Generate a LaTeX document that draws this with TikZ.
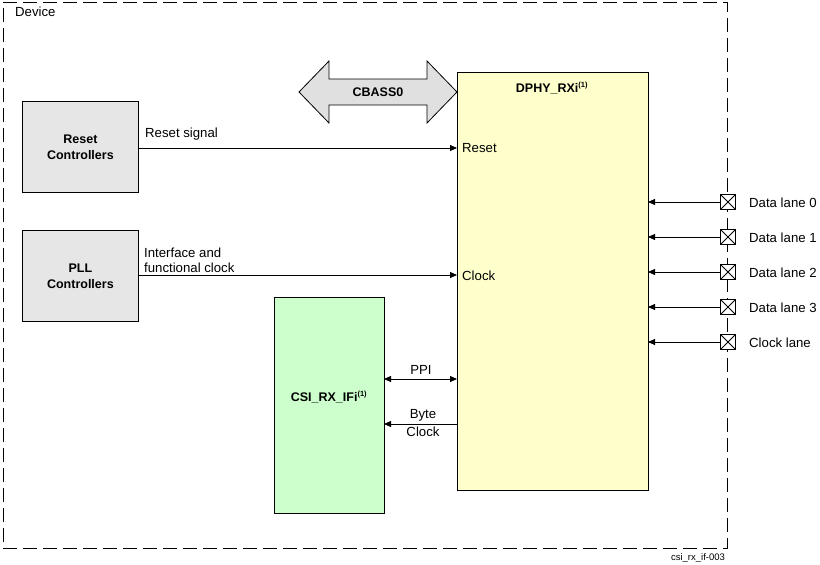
\documentclass[tikz,border=0pt]{standalone}
\usepackage{fontspec}
\setmainfont{Liberation Sans}
\usetikzlibrary{arrows.meta}
\definecolor{boxgray}{HTML}{E6E6E6}
\definecolor{dphy}{HTML}{FFFFCC}
\definecolor{csi}{HTML}{CCFFCC}
\definecolor{busgray}{HTML}{E0E0E0}
\tikzset{
  blk/.style={draw, line width=0.8pt, inner sep=0pt, anchor=north west},
  ctl/.style={blk, fill=boxgray, minimum width=116pt, minimum height=91pt, font=\fontsize{12.5}{16}\selectfont\bfseries, align=center},
  ttl/.style={font=\fontsize{12.5}{14}\selectfont\bfseries, inner sep=0pt},
  lbl/.style={font=\fontsize{13.2}{15}\selectfont, inner sep=0pt},
  sig/.style={line width=0.8pt, -{Triangle[length=7pt,width=6pt]}},
  pin/.style={draw, line width=0.8pt, fill=white, minimum size=15pt, inner sep=0pt, path picture={\draw (path picture bounding box.north west) -- (path picture bounding box.south east) (path picture bounding box.north east) -- (path picture bounding box.south west);}},
}
\begin{document}
\begin{tikzpicture}[x=1pt,y=-1pt]
\useasboundingbox (0,0) rectangle (820,565);
% device border
\draw[line width=0.8pt, dash pattern=on 14pt off 6pt] (3,2) -- (727,2) -- (727,548) -- (3,548) -- cycle;
\node[lbl, anchor=west] (dev) at (15,12) {Device};
% controllers
\node[ctl] (rst) at (22,101) {Reset\\Controllers};
\node[ctl] (pll) at (22,230) {PLL\\Controllers};
% DPHY
\node[blk, fill=dphy, minimum width=191pt, minimum height=418pt] (dphy) at (457,72) {};
\node[ttl] (dphyt) at (552,88) {DPHY\_RXi\textsuperscript{\fontsize{7.5}{8}\selectfont(1)}};
% CSI
\node[blk, fill=csi, minimum width=110pt, minimum height=216pt] (csi) at (274,297) {};
\node[ttl] (csit) at (329,397) {CSI\_RX\_IFi\textsuperscript{\fontsize{7.5}{8}\selectfont(1)}};
% CBASS0 bus
\draw[line width=0.8pt, fill=busgray] (299,92) -- (329,61) -- (329,79) -- (427,79) -- (427,61) -- (457,92) -- (427,123) -- (427,105) -- (329,105) -- (329,123) -- cycle;
\node[ttl] (bust) at (378,92) {CBASS0};
% internal port labels
\node[lbl, anchor=west] (prst) at (462,148) {Reset};
\node[lbl, anchor=west] (pclk) at (462,276) {Clock};
% signals
\coordinate (r1) at (138,148); \coordinate (r2) at (457,148);
\draw[sig] (r1) -- (r2);
\node[lbl, anchor=west] (rsl) at (145,134) {Reset signal};
\coordinate (c1) at (138,275); \coordinate (c2) at (457,275);
\draw[sig] (c1) -- (c2);
\node[lbl, anchor=south west, align=left, font=\fontsize{13.2}{15.5}\selectfont] (csl) at (144,273) {Interface and\\functional clock};
\coordinate (p1) at (384,379); \coordinate (p2) at (457,379);
\draw[line width=0.8pt, {Triangle[length=7pt,width=6pt]}-{Triangle[length=7pt,width=6pt]}] (p1) -- (p2);
\node[lbl] (ppi) at (421,370) {PPI};
\coordinate (b1) at (457,424); \coordinate (b2) at (384,424);
\draw[sig] (b1) -- (b2);
\node[lbl] (byte) at (423,415) {Byte};
\node[lbl] (bclk) at (423,432) {Clock};
% pins
\foreach \y/\t/\n in {202/Data lane 0/d0, 237/Data lane 1/d1, 272/Data lane 2/d2, 307/Data lane 3/d3, 342/Clock lane/cl}{
  \node[pin] (pin\n) at (728,\y) {};
  \coordinate (end\n) at (648,\y);
  \draw[sig] (pin\n.west) -- (end\n);
  \node[lbl, anchor=west] (lab\n) at (749,\y+1) {\t};
}
\node[font=\fontsize{9.5}{10}\selectfont, inner sep=0pt] (fig) at (698,558) {csi\_rx\_if-003};
\end{tikzpicture}
\end{document}
